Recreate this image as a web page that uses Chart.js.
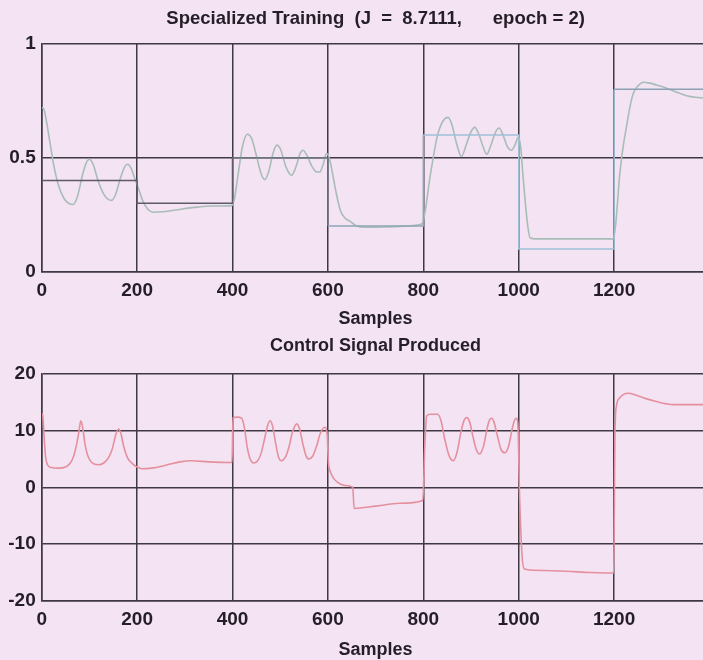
<!DOCTYPE html>
<html>
<head>
<meta charset="utf-8">
<script src="https://cdn.jsdelivr.net/npm/chart.js@4.4.1/dist/chart.umd.min.js"></script>
<style>
  html, body { margin: 0; padding: 0; background: #f4e3f3; overflow: hidden; width: 703px; height: 660px; }
  #wrap { position: relative; width: 703px; height: 660px; overflow: hidden; }
  canvas { position: absolute; left: 0; }
  #topChart { top: 0; width: 720px; height: 334px; }
  #bottomChart { top: 334px; width: 720px; height: 326px; }
</style>
</head>
<body>
<div id="wrap">
  <canvas id="topChart" width="720" height="334"></canvas>
  <canvas id="bottomChart" width="720" height="326"></canvas>
</div>
<script>
// Set-point sequence: level held from each sample until the next change
const refSamples = [0, 200, 400, 600, 800, 1000, 1200, 1400];
const refLevels  = [0.4, 0.3, 0.5, 0.2, 0.6, 0.1, 0.8, 0.8];

// Plant output under the trained controller
const outSamples = [0, 4, 10, 17, 25, 35, 47, 58, 66, 75, 85, 93, 100, 108, 118, 130, 140, 147, 155, 165, 174, 180, 187, 195,
  202, 212, 222, 234, 255, 285, 320, 360, 398, 404, 412, 421, 431, 440, 450, 460, 468, 476, 485, 493, 501, 512, 524, 533,
  542, 548, 556, 567, 577, 583, 590, 597, 602, 608, 616, 626, 636, 646, 660, 680, 720, 760, 798, 805, 813, 821, 830, 841,
  852, 860, 870, 880, 889, 899, 908, 916, 925, 933, 941, 951, 959, 967, 976, 985, 993, 999, 1004, 1009, 1014, 1019, 1024,
  1035, 1100, 1198, 1203, 1207, 1212, 1219, 1226, 1233, 1240, 1250, 1262, 1275, 1290, 1310, 1330, 1352, 1370, 1390, 1400];
const outValues = [0.72, 0.715, 0.66, 0.57, 0.47, 0.38, 0.32, 0.298, 0.295, 0.33, 0.42, 0.475, 0.493, 0.47, 0.40, 0.34, 0.316, 0.313, 0.34, 0.41, 0.46, 0.471, 0.455, 0.41,
  0.37, 0.31, 0.275, 0.261, 0.263, 0.272, 0.282, 0.288, 0.29, 0.32, 0.43, 0.55, 0.603, 0.585, 0.51, 0.43, 0.404, 0.44, 0.52, 0.555, 0.535, 0.46, 0.423, 0.46,
  0.52, 0.533, 0.51, 0.46, 0.437, 0.437, 0.47, 0.518, 0.505, 0.45, 0.36, 0.27, 0.235, 0.222, 0.2, 0.195, 0.196, 0.2, 0.21, 0.28, 0.40, 0.503, 0.6, 0.66,
  0.677, 0.645, 0.56, 0.505, 0.55, 0.61, 0.633, 0.605, 0.55, 0.515, 0.55, 0.61, 0.63, 0.6, 0.55, 0.533, 0.56, 0.59, 0.55, 0.42, 0.3, 0.2, 0.148,
  0.144, 0.144, 0.144, 0.2, 0.3, 0.43, 0.55, 0.636, 0.72, 0.78, 0.815, 0.831, 0.827, 0.818, 0.805, 0.788, 0.772, 0.765, 0.762, 0.762];

// Control signal sent to the plant
const ctlSamples = [0, 2, 5, 8, 12, 20, 35, 50, 60, 67, 73, 78, 82, 86, 91, 97, 105, 119, 130, 140, 148, 155, 161, 166, 172, 180, 190, 200,
  210, 230, 260, 290, 315, 350, 399, 401, 410, 419, 425, 431, 437, 444, 452, 460, 467, 474, 479, 484, 490, 496, 502, 510, 518, 526,
  535, 541, 548, 554, 560, 568, 576, 584, 593, 598, 601, 605, 612, 622, 635, 652, 655, 700, 750, 799, 803, 807, 814, 830, 837, 845,
  854, 863, 871, 879, 886, 891, 897, 904, 911, 918, 926, 934, 939, 943, 948, 955, 963, 971, 979, 986, 991, 995, 998, 1002, 1007,
  1012, 1030, 1100, 1150, 1199, 1202, 1205, 1212, 1220, 1229, 1245, 1265, 1282, 1300, 1324, 1360, 1400];
const ctlValues = [13, 12.8, 9, 5.5, 4.0, 3.5, 3.4, 3.6, 4.3, 5.5, 7.5, 9.8, 11.75, 10.5, 7.5, 5.5, 4.4, 4.0, 4.3, 5.2, 6.8, 9.2, 10.3, 9.5, 7.2, 5.2, 4.2, 3.6,
  3.3, 3.4, 3.9, 4.5, 4.7, 4.5, 4.4, 12.3, 12.4, 12.2, 10.5, 7, 5, 4.3, 4.6, 6, 8.5, 11, 11.75, 10.8, 8, 5.5, 4.7, 5.2, 7, 9.8,
  11.2, 10.2, 7.5, 5.6, 5.0, 5.5, 7.2, 9.5, 10.6, 9.8, 4.5, 2.8, 1.6, 0.8, 0.35, 0.05, -3.7, -3.3, -2.8, -2.3, 7, 12.6, 12.9, 12.9, 11.8, 8.5,
  5.6, 4.7, 6.3, 9.8, 11.9, 12.3, 11.6, 9, 6.7, 5.9, 7.2, 10.5, 11.9, 12.2, 11.6, 9.2, 6.7, 6.1, 7.3, 10.2, 11.8, 12.2, 11.5, -1.9, -12,
  -14.4, -14.6, -14.8, -15, -15.1, 10.3, 14.4, 15.8, 16.4, 16.6, 16.3, 15.7, 15.3, 14.9, 14.6, 14.6, 14.6];

// Axis ticks
const sampleTicks = [0, 200, 400, 600, 800, 1000, 1200, 1400];
const outputTicks = [0, 0.5, 1];
const controlTicks = [-20, -10, 0, 10, 20];

const FONT = "'Liberation Sans', Arial, Helvetica, sans-serif";
const INK = '#241e28';
const GRID = '#3f3944';
// shade of each held set-point level
const refSegmentColors = ['#5f5a68', '#5f5a68', '#6c7480', '#8fa6b8', '#9ec0d8', '#9ec0d8', '#8aa2b4'];

function pts(xs, ys) { return xs.map((x, i) => ({ x: x, y: ys[i] })); }

function sampleAxis(labelPad, titleBottomPad, titleLineHeight, height) {
  return {
    type: 'linear', min: 0, max: 1400,
    afterBuildTicks: s => { s.ticks = sampleTicks.map(v => ({ value: v })); },
    afterFit: s => { s.height = height; },
    ticks: {
      padding: labelPad, maxRotation: 0, autoSkip: false, color: INK,
      font: { family: FONT, size: 19, weight: 'bold' },
      callback: v => (v === 1400 ? '' : String(v))
    },
    grid: { color: GRID, lineWidth: 1.5, drawTicks: false },
    border: { display: true, color: GRID, width: 1.5 },
    title: {
      display: true, text: 'Samples', color: INK,
      font: { family: FONT, size: 18, weight: 'bold', lineHeight: titleLineHeight },
      padding: { top: 0, bottom: titleBottomPad }
    }
  };
}

function valueAxis(min, max, ticks) {
  return {
    type: 'linear', min: min, max: max,
    afterBuildTicks: s => { s.ticks = ticks.map(v => ({ value: v })); },
    afterFit: s => { s.width = 41.7; },
    ticks: {
      padding: 6, color: INK,
      font: { family: FONT, size: 19, weight: 'bold' },
      callback: v => String(v)
    },
    grid: { color: GRID, lineWidth: 1.5, drawTicks: false },
    border: { display: true, color: GRID, width: 1.5 }
  };
}

function chartTitle(text, size, top, bottom) {
  return {
    display: true, text: text, color: INK, fullSize: false,
    font: { family: FONT, size: size, weight: 'bold', lineHeight: 1.2 },
    padding: { top: top, bottom: bottom }
  };
}

new Chart(document.getElementById('topChart'), {
  type: 'line',
  data: {
    datasets: [
      {
        data: pts(refSamples, refLevels),
        stepped: true,
        borderWidth: 1.5,
        borderColor: '#9ec0d8',
        segment: { borderColor: ctx => refSegmentColors[ctx.p0DataIndex] },
        pointRadius: 0
      },
      {
        data: pts(outSamples, outValues),
        cubicInterpolationMode: 'monotone',
        borderWidth: 1.6,
        borderColor: '#a8bcb8',
        pointRadius: 0
      }
    ]
  },
  options: {
    responsive: false, animation: false, devicePixelRatio: 1,
    layout: { padding: { left: 0, right: 10.5, top: 0, bottom: 0 } },
    plugins: {
      legend: { display: false }, tooltip: { enabled: false },
      title: chartTitle('Specialized Training  (J  =  8.7111,      epoch = 2)', 18.5, 7.8, 13.7)
    },
    scales: {
      x: sampleAxis(7.4, 4.4, 1.2, 62.3),
      y: valueAxis(0, 1, outputTicks)
    }
  }
});

new Chart(document.getElementById('bottomChart'), {
  type: 'line',
  data: {
    datasets: [
      {
        data: pts(ctlSamples, ctlValues),
        cubicInterpolationMode: 'monotone',
        borderWidth: 1.6,
        borderColor: '#e5909e',
        pointRadius: 0
      }
    ]
  },
  options: {
    responsive: false, animation: false, devicePixelRatio: 1,
    layout: { padding: { left: 0, right: 10.5, top: 0, bottom: 0 } },
    plugins: {
      legend: { display: false }, tooltip: { enabled: false },
      title: chartTitle('Control Signal Produced', 18, 1.5, 16.9)
    },
    scales: {
      x: sampleAxis(7.4, 0, 1.1, 59.2),
      y: valueAxis(-20, 20, controlTicks)
    }
  }
});
</script>
</body>
</html>
